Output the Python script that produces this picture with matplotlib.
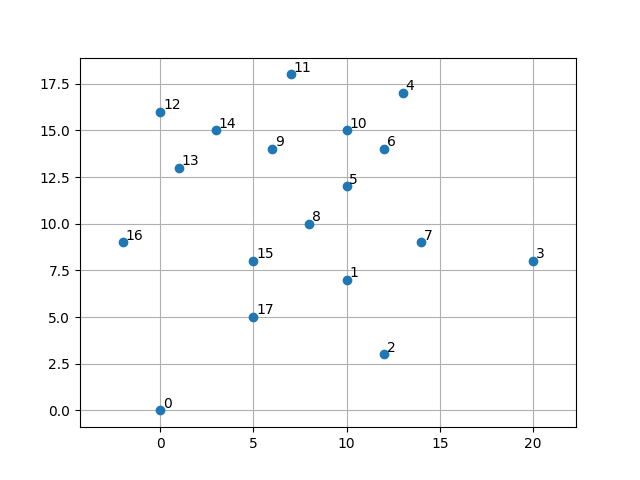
import matplotlib
matplotlib.use("Agg")
import matplotlib.pyplot as plt

xs = [0, 10, 12, 20, 13, 10, 12, 14, 8, 6, 10, 7, 0, 1, 3, 5, -2, 5]
ys = [0, 7, 3, 8, 17, 12, 14, 9, 10, 14, 15, 18, 16, 13, 15, 8, 9, 5]
labels = [str(i) for i in range(len(xs))]

fig, ax = plt.subplots(figsize=(6.4, 4.8), dpi=100)
ax.set_axisbelow(True)
ax.scatter(xs, ys, zorder=3)
for x, y, t in zip(xs, ys, labels):
    ax.annotate(t, (x, y), xytext=(2, 2), textcoords="offset points")
ax.grid(True)
ax.set_xlim(-4.3, 22.3)
fig.savefig("out.png")
